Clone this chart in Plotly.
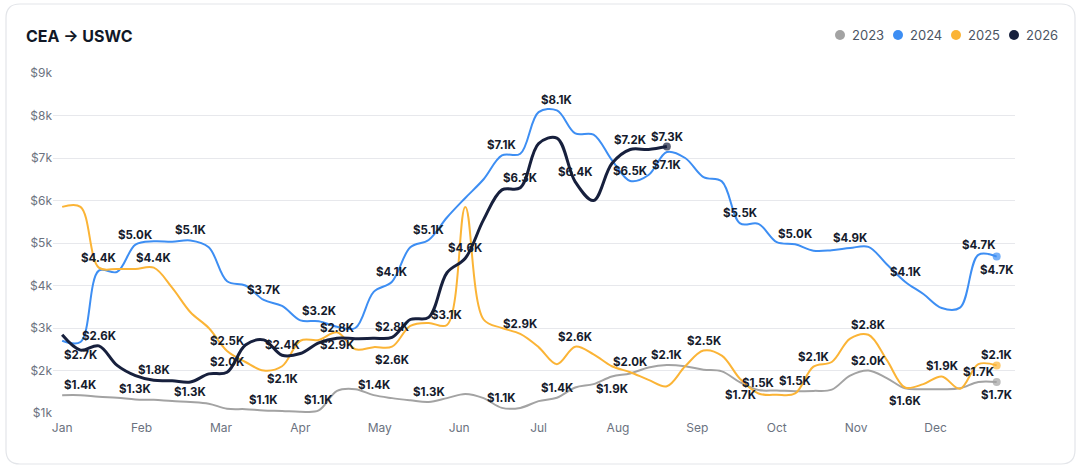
import plotly.graph_objects as go

months = ["Jan", "Feb", "Mar", "Apr", "May", "Jun", "Jul", "Aug", "Sep", "Oct", "Nov", "Dec"]
years = ["2023", "2024", "2025", "2026"]

# weekly CEA -> USWC rates in $k, week 0 = first week of January
rate_2023 = [1.42, 1.42, 1.38, 1.36, 1.32, 1.31, 1.28, 1.26, 1.22, 1.10,
             1.09, 1.06, 1.05, 1.03, 1.06, 1.52, 1.56, 1.42, 1.35, 1.30,
             1.26, 1.35, 1.45, 1.35, 1.12, 1.12, 1.28, 1.36, 1.60, 1.68,
             1.86, 1.93, 2.07, 2.13, 2.10, 2.02, 1.98, 1.72, 1.54, 1.53,
             1.51, 1.52, 1.55, 1.88, 2.00, 1.82, 1.58, 1.56, 1.56, 1.58,
             1.73, 1.73]
rate_2024 = [2.70, 2.67, 4.35, 4.32, 4.96, 5.04, 5.03, 5.06, 4.90, 4.10,
             4.00, 3.66, 3.52, 3.18, 3.16, 3.03, 3.00, 3.85, 4.09, 4.90,
             5.07, 5.60, 6.06, 6.50, 7.06, 7.10, 8.08, 8.12, 7.58, 7.55,
             6.95, 6.46, 6.60, 7.14, 7.00, 6.55, 6.45, 5.46, 5.45, 5.02,
             4.97, 4.82, 4.83, 4.88, 4.91, 4.50, 4.09, 3.80, 3.47, 3.48,
             4.72, 4.68]
rate_2025 = [5.85, 5.85, 4.42, 4.39, 4.39, 4.42, 3.95, 3.37, 3.00, 2.46,
             2.20, 2.00, 2.10, 2.70, 2.72, 2.90, 2.50, 2.55, 2.56, 3.05,
             3.12, 3.07, 5.85, 3.20, 3.00, 2.86, 2.55, 2.15, 2.56, 2.38,
             2.10, 1.96, 1.78, 1.63, 2.10, 2.47, 2.35, 1.80, 1.46, 1.43,
             1.46, 2.09, 2.20, 2.75, 2.84, 2.25, 1.60, 1.68, 1.86, 1.57,
             2.15, 2.12]
rate_2026 = [2.84, 2.48, 2.58, 2.12, 1.88, 1.77, 1.76, 1.73, 1.92, 1.96,
             2.60, 2.72, 2.36, 2.40, 2.65, 2.76, 2.75, 2.76, 2.78, 3.20,
             3.25, 4.30, 4.64, 5.55, 6.25, 6.30, 7.34, 7.47, 6.44, 6.00,
             6.87, 7.20, 7.20, 7.27]

# which weeks get a value label, and on which side of the line
labels_2023 = {1: "top", 4: "top", 7: "top", 11: "top", 14: "top", 17: "top",
               20: "top", 24: "top", 27: "top", 30: "bottom", 33: "top",
               37: "bottom", 40: "top", 44: "top", 46: "bottom", 50: "top",
               51: "bottom"}
labels_2024 = {1: "bottom", 4: "top", 7: "top", 11: "top", 14: "top", 18: "top",
               20: "top", 24: "top", 27: "top", 31: "top", 33: "bottom",
               37: "top", 40: "top", 43: "top", 46: "top", 50: "top",
               51: "bottom"}
labels_2025 = {2: "top", 5: "top", 9: "top", 12: "bottom", 15: "bottom",
               18: "bottom", 21: "top", 25: "top", 28: "top", 31: "top",
               35: "top", 38: "top", 41: "top", 44: "top", 48: "top", 51: "top"}
labels_2026 = {2: "top", 5: "top", 9: "top", 12: "top", 15: "top", 18: "top",
               22: "top", 25: "top", 28: "top", 31: "top", 33: "top"}

colors = ["#a3a3a3", "#3d8ef3", "#fbb436", "#17203d"]
widths = [2, 2, 2, 3]

W, H = 1081, 473
PL, PR, PT, PB = 53, 1015, 73, 413


def to_paper(x, y):
    return (x - PL) / (PR - PL), (PB - y) / (PB - PT)


def rounded_rect(x0, y0, x1, y1, r):
    pts = [("M", x0 + r, y0), ("L", x1 - r, y0), ("Q", x1, y0, x1, y0 + r),
           ("L", x1, y1 - r), ("Q", x1, y1, x1 - r, y1), ("L", x0 + r, y1),
           ("Q", x0, y1, x0, y1 - r), ("L", x0, y0 + r), ("Q", x0, y0, x0 + r, y0)]
    out = []
    for p in pts:
        cmd = p[0]
        coords = []
        for i in range(1, len(p), 2):
            px, py = to_paper(p[i], p[i + 1])
            coords.append(f"{px:.5f},{py:.5f}")
        out.append(cmd + " ".join(coords))
    return " ".join(out) + " Z"


fig = go.Figure()
annotations = []

series = [rate_2023, rate_2024, rate_2025, rate_2026]
label_sets = [labels_2023, labels_2024, labels_2025, labels_2026]

for yr, vals, labs, col, w in zip(years, series, label_sets, colors, widths):
    n = len(vals)
    sizes = [0] * (n - 1) + [8]
    fig.add_trace(go.Scatter(
        x=list(range(n)), y=vals, name=yr,
        mode="lines+markers",
        line=dict(color=col, width=w, shape="spline", smoothing=1),
        marker=dict(size=sizes, color=col, line=dict(width=0)),
        hoverinfo="skip", showlegend=False, cliponaxis=False,
    ))
    # value labels sit a few pixels above / below their point
    for i, side in labs.items():
        top = side == "top"
        annotations.append(dict(
            x=i, y=vals[i], xref="x", yref="y", text=f"${vals[i]:.1f}K",
            showarrow=False, xanchor="center",
            yanchor="bottom" if top else "top", yshift=1 if top else -4,
            font=dict(family="Inter", size=11.5, color="#151b2c", weight="bold"),
        ))

shapes = [dict(type="path", xref="paper", yref="paper",
               path=rounded_rect(6, 4, 1075, 464, 14),
               line=dict(color="#e3e5e9", width=1.2), fillcolor="rgba(0,0,0,0)",
               layer="below")]

# hand-made legend at the top right
legend_dot_x = [840, 898, 956, 1014]
for yr, col, dx in zip(years, colors, legend_dot_x):
    cx, cy = to_paper(dx, 35)
    rx = 5 / (PR - PL)
    ry = 5 / (PB - PT)
    shapes.append(dict(type="circle", xref="paper", yref="paper",
                       x0=cx - rx, x1=cx + rx, y0=cy - ry, y1=cy + ry,
                       fillcolor=col, line=dict(width=0)))
    tx, ty = to_paper(dx + 10, 35)
    annotations.append(dict(text=yr, xref="paper", yref="paper", x=tx, y=ty,
                            xanchor="left", yanchor="middle", showarrow=False,
                            font=dict(family="Inter", size=13, color="#4b5563")))

fig.update_layout(
    width=W, height=H,
    margin=dict(l=PL, r=W - PR, t=PT, b=H - PB),
    paper_bgcolor="white", plot_bgcolor="white",
    font=dict(family="Inter", color="#6b7280"),
    title=dict(text="<b>CEA → USWC</b>", x=26 / W, xanchor="left",
               y=1 - 36 / H, yanchor="middle",
               font=dict(family="Inter", size=16, color="#111827")),
    shapes=shapes, annotations=annotations,
    showlegend=False,
    xaxis=dict(range=[-0.5, 52], tickvals=[m * 52 / 12 for m in range(12)],
               ticktext=months, showgrid=False, zeroline=False, showline=False,
               ticks="", tickfont=dict(size=12, color="#6b7280"),
               ticklabelstandoff=6),
    yaxis=dict(range=[1, 9], tickvals=list(range(1, 10)),
               ticktext=[f"${v}k" for v in range(1, 10)],
               showgrid=True, gridcolor="#e7e8ec", gridwidth=1, zeroline=False,
               showline=False, ticks="", tickfont=dict(size=12, color="#6b7280")),
)

# the page body has a default margin; drop it so the figure sits at the corner
fig.write_html("out.html", config={"displayModeBar": False},
               post_script="document.body.style.margin='0';")
